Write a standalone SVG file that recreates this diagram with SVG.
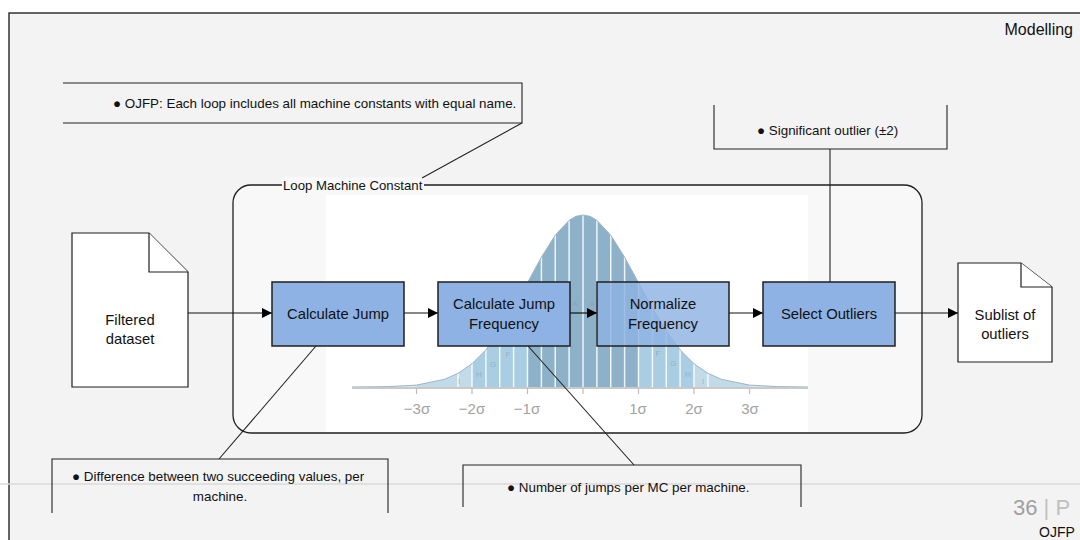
<svg xmlns="http://www.w3.org/2000/svg" width="1080" height="540" viewBox="0 0 1080 540">
  <defs>
    <marker id="arrow" viewBox="0 0 10 10" refX="10" refY="5" markerWidth="10" markerHeight="10" markerUnits="userSpaceOnUse" orient="auto">
      <path d="M0,0 L10,5 L0,10 Z" fill="#000"/>
    </marker>
    <clipPath id="bell">
      <path d="M352,387 L388.75,386.6 L416.5,385.1 L444.25,379.4 L458.1,373.3 L472,363.7 L485.9,349.8 L499.75,331.2 L513.6,308.3 L527.5,282.7 L541.4,257.2 L555.25,235.2 L569.1,220.3 L576,216.3 L583,215 L590,216.3 L596.9,220.3 L610.75,235.2 L624.6,257.2 L638.5,282.7 L652.4,308.3 L666.25,331.2 L680.1,349.8 L694,363.7 L707.9,373.3 L721.75,379.4 L749.5,385.1 L777.25,386.6 L808,387 Z"/>
    </clipPath>
    <style>
      .t { font-family: "Liberation Sans", Arial, sans-serif; fill: #111; }
      .n { font-size: 14.8px; text-anchor: middle; }
      .b { font-size: 13.4px; }
      .proc { fill: #8eb2e3; stroke: #1f1f1f; stroke-width: 1.5; }
      .doc { fill: #ffffff; stroke: #1f1f1f; stroke-width: 1.2; }
      .edge { stroke: #111; stroke-width: 1.2; fill: none; }
      .note { stroke: #222; stroke-width: 1.1; fill: none; }
      .tick { font-family: "Liberation Sans", Arial, sans-serif; font-size: 15px; fill: #a3a3a3; text-anchor: middle; }
      .ltr { font-family: "Liberation Sans", Arial, sans-serif; font-size: 8px; fill: #7f9aab; fill-opacity: 0.55; text-anchor: middle; }
    </style>
  </defs>

  <!-- page -->
  <rect x="0" y="0" width="1080" height="540" fill="#ffffff"/>
  <rect x="9" y="13" width="1090" height="540" fill="#f3f3f3" stroke="#333" stroke-width="1.5"/>
  <line x1="0" y1="484" x2="1080" y2="484" stroke="#dadada" stroke-width="1.5"/>

  <!-- loop container -->
  <g id="loop">
    <rect x="233" y="185" width="689" height="248" rx="18" fill="#f8f8f8" stroke="#1f1f1f" stroke-width="1.3"/>
    <rect x="326" y="195" width="482" height="237" fill="#ffffff"/>
    <!-- normal distribution backdrop -->
    <g id="bell-curve">
      <g clip-path="url(#bell)">
        <rect x="352" y="200" width="64.5" height="190" fill="#d6e5ee"/>
        <rect x="416.5" y="200" width="55.5" height="190" fill="#c2dbe8"/>
        <rect x="472" y="200" width="55.5" height="190" fill="#a9cde2"/>
        <rect x="527.5" y="200" width="111" height="190" fill="#8cb1c8"/>
        <rect x="638.5" y="200" width="55.5" height="190" fill="#a9cde2"/>
        <rect x="694" y="200" width="55.5" height="190" fill="#c2dbe8"/>
        <rect x="749.5" y="200" width="58.5" height="190" fill="#d6e5ee"/>
        <g stroke="#ffffff" stroke-width="1.5" stroke-opacity="0.85">
          <line x1="458.1" y1="200" x2="458.1" y2="390"/>
          <line x1="472" y1="200" x2="472" y2="390"/>
          <line x1="485.9" y1="200" x2="485.9" y2="390"/>
          <line x1="499.75" y1="200" x2="499.75" y2="390"/>
          <line x1="513.6" y1="200" x2="513.6" y2="390"/>
          <line x1="527.5" y1="200" x2="527.5" y2="390"/>
          <line x1="541.4" y1="200" x2="541.4" y2="390"/>
          <line x1="555.25" y1="200" x2="555.25" y2="390"/>
          <line x1="569.1" y1="200" x2="569.1" y2="390"/>
          <line x1="583" y1="200" x2="583" y2="390"/>
          <line x1="596.9" y1="200" x2="596.9" y2="390"/>
          <line x1="610.75" y1="200" x2="610.75" y2="390"/>
          <line x1="624.6" y1="200" x2="624.6" y2="390"/>
          <line x1="638.5" y1="200" x2="638.5" y2="390"/>
          <line x1="652.4" y1="200" x2="652.4" y2="390"/>
          <line x1="666.25" y1="200" x2="666.25" y2="390"/>
          <line x1="680.1" y1="200" x2="680.1" y2="390"/>
          <line x1="694" y1="200" x2="694" y2="390"/>
          <line x1="707.9" y1="200" x2="707.9" y2="390"/>
        </g>
      </g>
      <path d="M352,387 L388.75,386.6 L416.5,385.1 L444.25,379.4 L458.1,373.3 L472,363.7 L485.9,349.8 L499.75,331.2 L513.6,308.3 L527.5,282.7 L541.4,257.2 L555.25,235.2 L569.1,220.3 L576,216.3 L583,215 L590,216.3 L596.9,220.3 L610.75,235.2 L624.6,257.2 L638.5,282.7 L652.4,308.3 L666.25,331.2 L680.1,349.8 L694,363.7 L707.9,373.3 L721.75,379.4 L749.5,385.1 L777.25,386.6 L808,387" fill="none" stroke="#9db5c5" stroke-width="1"/>
      <text class="ltr" x="459" y="384">I</text>
      <text class="ltr" x="479" y="377">H</text>
      <text class="ltr" x="493" y="367">G</text>
      <text class="ltr" x="508" y="357">F</text>
      <text class="ltr" x="575" y="306">A</text>
      <text class="ltr" x="592" y="306">A</text>
      <text class="ltr" x="658" y="356">F</text>
      <text class="ltr" x="673" y="366">G</text>
      <text class="ltr" x="688" y="377">H</text>
      <text class="ltr" x="703" y="384">I</text>
      <line x1="352" y1="388" x2="808" y2="388" stroke="#c9c9c9" stroke-width="2"/>
      <g stroke="#bdbdbd" stroke-width="1.2">
        <line x1="416.5" y1="388" x2="416.5" y2="394"/>
        <line x1="472" y1="388" x2="472" y2="394"/>
        <line x1="527.5" y1="388" x2="527.5" y2="394"/>
        <line x1="583" y1="388" x2="583" y2="394"/>
        <line x1="638.5" y1="388" x2="638.5" y2="394"/>
        <line x1="694" y1="388" x2="694" y2="394"/>
        <line x1="749.5" y1="388" x2="749.5" y2="394"/>
      </g>
      <text class="tick" x="417" y="414">−3σ</text>
      <text class="tick" x="472" y="414">−2σ</text>
      <text class="tick" x="527" y="414">−1σ</text>
      <text class="tick" x="638" y="414">1σ</text>
      <text class="tick" x="694" y="414">2σ</text>
      <text class="tick" x="750" y="414">3σ</text>
    </g>
    <rect x="282" y="177" width="142" height="15" fill="#f8f8f8"/>
    <text class="t" x="283" y="190" font-size="13.2">Loop Machine Constant</text>
  </g>

  <!-- connectors -->
  <g id="connectors">
    <line class="edge" x1="188" y1="313" x2="272" y2="313" marker-end="url(#arrow)"/>
    <line class="edge" x1="404" y1="313" x2="438" y2="313" marker-end="url(#arrow)"/>
    <line class="edge" x1="570" y1="313" x2="597" y2="313" marker-end="url(#arrow)"/>
    <line class="edge" x1="729" y1="313" x2="763" y2="313" marker-end="url(#arrow)"/>
    <line class="edge" x1="895" y1="313" x2="958" y2="313" marker-end="url(#arrow)"/>
    <line class="note" x1="522" y1="123" x2="422" y2="178"/>
    <line class="note" x1="830" y1="149" x2="830" y2="282"/>
    <line class="note" x1="316" y1="346" x2="219" y2="459"/>
    <line class="note" x1="528" y1="346" x2="634" y2="465"/>
  </g>

  <!-- data documents -->
  <g id="filtered-dataset">
    <path class="doc" d="M72,233 L149,233 L188,272 L188,387 L72,387 Z"/>
    <path class="doc" d="M149,233 L149,272 L188,272"/>
    <text class="t n" x="130" y="325">Filtered</text>
    <text class="t n" x="130" y="344">dataset</text>
  </g>
  <g id="sublist-outliers">
    <path class="doc" d="M958,263 L1021,263 L1052,287 L1052,362 L958,362 Z"/>
    <path class="doc" d="M1021,263 L1021,287 L1052,287"/>
    <text class="t n" x="1005" y="320">Sublist of</text>
    <text class="t n" x="1005" y="339">outliers</text>
  </g>

  <!-- process steps -->
  <g id="calculate-jump">
    <rect class="proc" x="272" y="282" width="132" height="64"/>
    <text class="t n" x="338" y="319">Calculate Jump</text>
  </g>
  <g id="calculate-jump-frequency">
    <rect class="proc" x="438" y="282" width="132" height="64"/>
    <text class="t n" x="504" y="309">Calculate Jump</text>
    <text class="t n" x="504" y="329">Frequency</text>
  </g>
  <g id="normalize-frequency">
    <rect class="proc" x="597" y="282" width="132" height="64" fill-opacity="0.82"/>
    <text class="t n" x="663" y="309">Normalize</text>
    <text class="t n" x="663" y="329">Frequency</text>
  </g>
  <g id="select-outliers">
    <rect class="proc" x="763" y="282" width="132" height="64"/>
    <text class="t n" x="829" y="319">Select Outliers</text>
  </g>

  <!-- annotations -->
  <g id="note-loop">
    <path class="note" d="M63,83 L522,83 L522,123 L63,123"/>
    <text class="t b" x="113" y="108">● OJFP: Each loop includes all machine constants with equal name.</text>
  </g>
  <g id="note-outlier">
    <path class="note" d="M714,105 L714,149 L947,149 L947,105"/>
    <text class="t b" x="757" y="135">●  Significant outlier (±2)</text>
  </g>
  <g id="note-jump">
    <path class="note" d="M52,513 L52,459 L388,459 L388,513"/>
    <text class="t b" x="72" y="481">●  Difference between two succeeding values, per</text>
    <text class="t b" text-anchor="middle" x="220" y="501">machine.</text>
  </g>
  <g id="note-frequency">
    <path class="note" d="M463,507 L463,465 L801,465 L801,507"/>
    <text class="t b" x="507" y="492">●  Number of jumps per MC per machine.</text>
  </g>

  <!-- page header / footer -->
  <text class="t" font-size="16" text-anchor="end" x="1073" y="35">Modelling</text>
  <text x="1013" y="515" font-family="Liberation Sans, Arial, sans-serif" font-size="22" fill="#a0a0a0">36 <tspan fill="#c0c0c0">| P</tspan></text>
  <text class="t" font-size="14" x="1039" y="537">OJFP</text>
</svg>
